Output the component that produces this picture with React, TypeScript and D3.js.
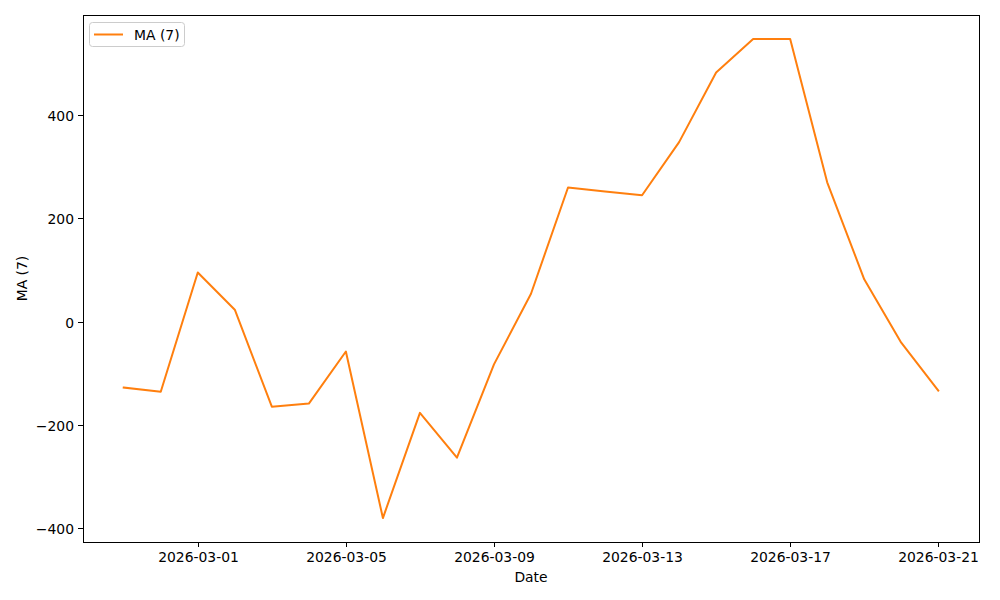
import React from "react";
import * as d3 from "d3";

const dates: string[] = [
  "2026-02-27", "2026-02-28", "2026-03-01", "2026-03-02", "2026-03-03", "2026-03-04",
  "2026-03-05", "2026-03-06", "2026-03-07", "2026-03-08", "2026-03-09", "2026-03-10",
  "2026-03-11", "2026-03-12", "2026-03-13", "2026-03-14", "2026-03-15", "2026-03-16",
  "2026-03-17", "2026-03-18", "2026-03-19", "2026-03-20", "2026-03-21",
];
const maValues: number[] = [
  -128, -136, 95, 23, -165, -159, -58, -381, -177, -264, -83, 54,
  260, 252, 245, 348, 483, 548, 548, 270, 82, -41, -134,
];
const xTickLabels: string[] = ["2026-03-01", "2026-03-05", "2026-03-09", "2026-03-13", "2026-03-17", "2026-03-21"];
const yTickValues: number[] = [-400, -200, 0, 200, 400];
const seriesName = "MA (7)";

const W = 1000, H = 600;
const left = 83, right = 979, top = 15, bottom = 542;
const font = "DejaVu Sans, sans-serif";
const fs = 13.9;
const color = "#ff7f0e";

export default function App() {
  const parse = d3.utcParse("%Y-%m-%d");
  const pts = dates.map((d, i) => ({ t: parse(d)!, v: maValues[i] }));
  const [t0, t1] = d3.extent(pts, (p) => p.t) as [Date, Date];
  const span = +t1 - +t0;
  const x = d3.scaleUtc()
    .domain([new Date(+t0 - span * 0.05), new Date(+t1 + span * 0.05)])
    .range([left, right]);
  const [v0, v1] = d3.extent(maValues) as [number, number];
  const vs = v1 - v0;
  const y = d3.scaleLinear().domain([v0 - vs * 0.05, v1 + vs * 0.05]).range([bottom, top]);
  const line = d3.line<{ t: Date; v: number }>().x((p) => x(p.t)).y((p) => y(p.v));

  return (
    <svg width={W} height={H} style={{ position: "absolute", left: 0, top: 0, background: "#fff" }} fontFamily={font}>
      <rect x={0} y={0} width={W} height={H} fill="#fff" />
      <path d={line(pts) || ""} fill="none" stroke={color} strokeWidth={2} strokeLinejoin="round" strokeLinecap="square" />
      <rect x={left + 0.5} y={top + 0.5} width={right - left} height={bottom - top} fill="none" stroke="#000" strokeWidth={1} />
      {xTickLabels.map((s) => {
        const xx = Math.round(x(parse(s)!)) + 0.5;
        return (
          <g key={s}>
            <line x1={xx} x2={xx} y1={bottom} y2={bottom + 5} stroke="#000" strokeWidth={1} />
            <text x={xx} y={bottom + 20} textAnchor="middle" fontSize={fs} fill="#000">{s}</text>
          </g>
        );
      })}
      {yTickValues.map((v) => {
        const yy = Math.round(y(v)) + 0.5;
        return (
          <g key={v}>
            <line x1={left - 5} x2={left} y1={yy} y2={yy} stroke="#000" strokeWidth={1} />
            <text x={left - 9} y={yy} dy="0.36em" textAnchor="end" fontSize={fs} fill="#000">
              {v < 0 ? "\u2212" + Math.abs(v) : String(v)}
            </text>
          </g>
        );
      })}
      <text x={(left + right) / 2} y={582} textAnchor="middle" fontSize={fs} fill="#000">Date</text>
      <text transform={`translate(27,${(top + bottom) / 2}) rotate(-90)`} textAnchor="middle" fontSize={fs} fill="#000">{seriesName}</text>
      <g>
        <rect x={89.5} y={22.5} width={95} height={24} rx={3} fill="#fff" fillOpacity={0.8} stroke="#ccc" strokeWidth={1} />
        <line x1={94} x2={123} y1={34.5} y2={34.5} stroke={color} strokeWidth={2} />
        <text x={134} y={34.5} dy="0.36em" fontSize={fs} fill="#000">{seriesName}</text>
      </g>
    </svg>
  );
}
